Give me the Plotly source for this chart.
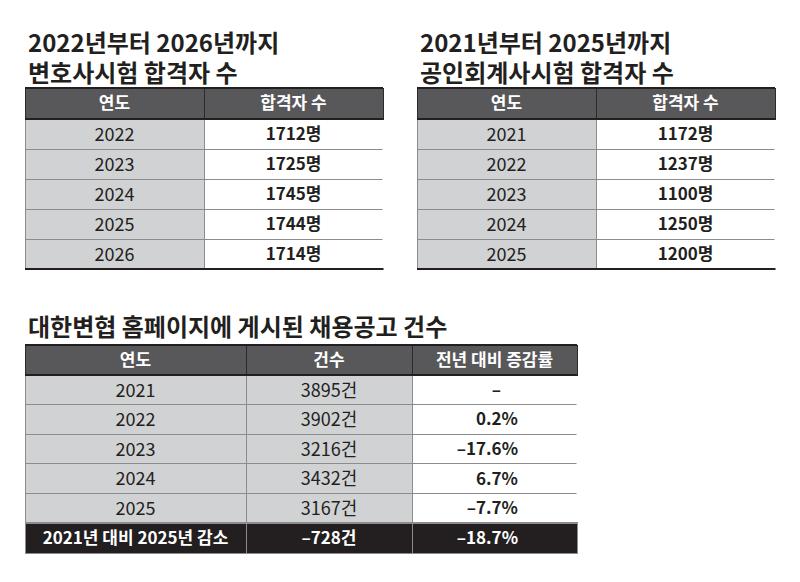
import plotly.graph_objects as go

W, H = 800, 582
OFF = 8  # 페이지 body 여백 보정
FONT = "Noto Sans CJK KR"
INK = "#231f20"
HEAD = "#58585a"
GREY = "#d1d2d4"
RULE = "#8c8c8c"
NB = "\u00a0"

# 변호사시험 합격자 수
bar_years = ["2022", "2023", "2024", "2025", "2026"]
bar_pass = [1712, 1725, 1745, 1744, 1714]

# 공인회계사시험 합격자 수
cpa_years = ["2021", "2022", "2023", "2024", "2025"]
cpa_pass = [1172, 1237, 1100, 1250, 1200]

# 대한변협 채용공고 건수
job_years = ["2021", "2022", "2023", "2024", "2025"]
job_posts = [3895, 3902, 3216, 3432, 3167]
job_change = [None, 0.2, -17.6, 6.7, -7.7]
total_label = "2021년 대비 2025년 감소"
total_diff = -728
total_rate = -18.7


def px_dom(x0, x1, y0, y1):
    x0, x1, y0, y1 = x0 - OFF, x1 - OFF, y0 - OFF, y1 - OFF
    return dict(x=[x0 / W, x1 / W], y=[1 - y1 / H, 1 - y0 / H])


def px_x(x):
    return (x - OFF) / W


def px_y(y):
    return 1 - (y - OFF) / H


def nb(s):
    return str(s).replace(" ", NB).replace("-", "–")


def hline(x0, x1, y, color=INK, width=2):
    fig.add_shape(type="line", xref="paper", yref="paper", layer="above",
                  x0=px_x(x0), x1=px_x(x1), y0=px_y(y), y1=px_y(y),
                  line=dict(color=color, width=width))


def vline(x, y0, y1, color="white", width=2):
    fig.add_shape(type="line", xref="paper", yref="paper", layer="above",
                  x0=px_x(x), x1=px_x(x), y0=px_y(y0), y1=px_y(y1),
                  line=dict(color=color, width=width))


def pass_table(years, counts, dom):
    n = len(years)
    return go.Table(
        domain=dom,
        columnwidth=[1, 1],
        header=dict(
            values=["연도", nb("합격자 수")],
            fill_color=HEAD,
            line=dict(color="#2b2b2b", width=1),
            font=dict(family=FONT, size=17, color="white", weight="bold"),
            align="center",
            height=31,
        ),
        cells=dict(
            values=[years, [f"{c}명" for c in counts]],
            fill_color=[[GREY] * n, ["white"] * n],
            line=dict(color=RULE, width=1),
            font=dict(family=FONT, size=[18, 17], color=INK, weight=[400, 700]),
            align="center",
            height=30,
        ),
    )


fig = go.Figure()
top12, hdr12, row12 = 88, 31, 30
bot12 = top12 + hdr12 + len(bar_years) * row12
for (x0, x1), yrs, cnt in [((25, 383), bar_years, bar_pass), ((417, 775), cpa_years, cpa_pass)]:
    fig.add_trace(pass_table(yrs, cnt, px_dom(x0, x1, top12, bot12 + 6)))
    hline(x0, x1, top12)
    hline(x0, x1, top12 + hdr12)
    hline(x0, x1, bot12)
    vline(x1 + 0.5, top12 + hdr12 + 1, bot12 - 1)

# 채용공고 표
pad = "\u2003" * 3
n = len(job_years)
col3 = ["–" + pad + "\u2003" if c is None else nb(f"{c}%") + pad for c in job_change]
hdr_h, row_h = 30, 29.6
top3 = 345
tot_top = top3 + hdr_h + n * row_h
widths3 = [221, 166, 165]

fig.add_trace(go.Table(
    domain=px_dom(25, 577, top3, tot_top + 2),
    columnwidth=widths3,
    header=dict(
        values=["연도", "건수", nb("전년 대비 증감률")],
        fill_color=HEAD,
        line=dict(color="#2b2b2b", width=1),
        font=dict(family=FONT, size=17, color="white", weight="bold"),
        align="center",
        height=hdr_h,
    ),
    cells=dict(
        values=[job_years, [f"{p}건" for p in job_posts], col3],
        fill_color=[[GREY] * n, [GREY] * n, ["white"] * n],
        line=dict(color=RULE, width=1),
        font=dict(family=FONT, size=[18, 18, 17], color=INK, weight=[400, 400, 700]),
        align=["center", "center", "right"],
        height=row_h,
    ),
))
hline(25, 577, top3)
hline(25, 577, top3 + hdr_h)
vline(577.5, top3 + hdr_h + 1, tot_top - 1)

# 합계 행
fig.add_trace(go.Table(
    domain=px_dom(25, 577, tot_top, tot_top + 32),
    columnwidth=widths3,
    header=dict(
        values=[nb(total_label), nb(f"{total_diff}건"), nb(f"{total_rate}%") + pad],
        fill_color=INK,
        line=dict(color=RULE, width=1),
        font=dict(family=FONT, size=17, color="white", weight="bold"),
        align=["center", "center", "right"],
        height=30,
    ),
    cells=dict(values=[[], [], []], height=1),
))

titles = [
    ("2022년부터 2026년까지", 26, 41),
    ("변호사시험 합격자 수", 26, 71),
    ("2021년부터 2025년까지", 418, 41),
    ("공인회계사시험 합격자 수", 418, 71),
    ("대한변협 홈페이지에 게시된 채용공고 건수", 26, 325),
]
for text, x, y in titles:
    fig.add_annotation(
        text=text, x=px_x(x), y=px_y(y), xref="paper", yref="paper",
        xanchor="left", yanchor="middle", align="left", showarrow=False,
        font=dict(family=FONT, size=24, color=INK, weight="bold"),
    )

fig.update_layout(
    width=W, height=H,
    margin=dict(t=0, r=0, b=0, l=0),
    paper_bgcolor="white",
    plot_bgcolor="white",
)

fig.write_html("out.html")
